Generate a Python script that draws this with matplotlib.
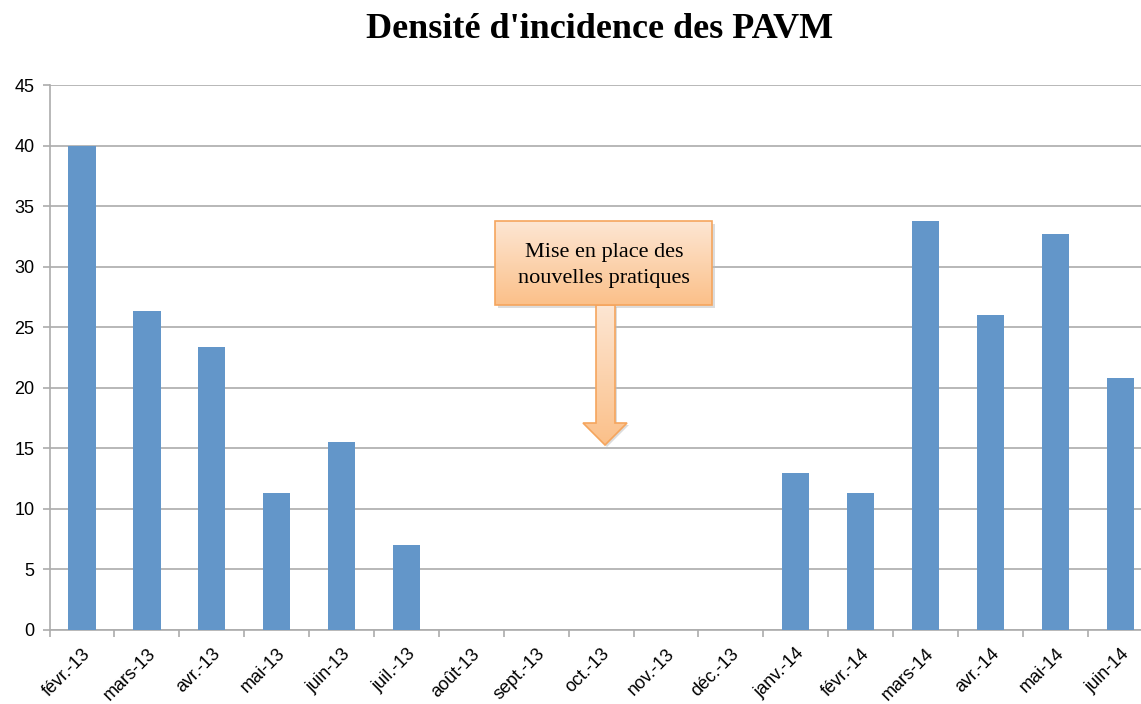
import matplotlib
matplotlib.use("Agg")
import matplotlib.pyplot as plt
import numpy as np
from matplotlib.patches import Rectangle, Polygon
from matplotlib.colors import LinearSegmentedColormap

months = ["févr.-13", "mars-13", "avr.-13", "mai-13", "juin-13", "juil.-13",
          "août-13", "sept.-13", "oct.-13", "nov.-13", "déc.-13", "janv.-14",
          "févr.-14", "mars-14", "avr.-14", "mai-14", "juin-14"]
values = [40.0, 26.3, 23.4, 11.3, 15.5, 7.0, 0, 0, 0, 0, 0, 13.0, 11.3, 33.8, 26.0, 32.7, 20.8]
yticks = [0, 5, 10, 15, 20, 25, 30, 35, 40, 45]

W, H = 1141, 704
fig = plt.figure(figsize=(W / 100, H / 100), dpi=100)
fig.patch.set_facecolor("white")

ax = fig.add_axes([49.6 / W, 74 / H, 1103 / W, 545 / H])
x = np.arange(len(months))
ax.bar(x, values, width=0.42, color="#6396c9", zorder=3)
ax.set_xlim(-0.5, len(months) - 0.5)
ax.set_ylim(0, 45)
ax.set_yticks(yticks)
ax.set_yticklabels([str(t) for t in yticks], fontsize=13, family="Liberation Sans")
ax.yaxis.grid(True, color="#acacac", linewidth=1.2, zorder=0)
ax.set_xticks(x)
ax.set_xticklabels(months, rotation=45, ha="right", rotation_mode="anchor",
                   fontsize=13, family="Liberation Sans")
ax.set_xticks(np.arange(-0.5, len(months), 1), minor=True)
ax.tick_params(axis="x", which="major", length=0, pad=11)
ax.tick_params(axis="x", which="minor", length=5, color="#acacac", width=1.2)
ax.tick_params(axis="y", length=5, color="#acacac", width=1.2, pad=6)
for s in ["top", "right"]:
    ax.spines[s].set_visible(False)
for s in ["left", "bottom"]:
    ax.spines[s].set_color("#acacac")
    ax.spines[s].set_linewidth(1.2)

fig.text(600 / W, 1 - 29 / H, "Densité d'incidence des PAVM", ha="center", va="center",
         fontsize=26, fontweight="bold", family="Liberation Serif")

# Overlay in pixel coords for the callout
ov = fig.add_axes([0, 0, 1, 1])
ov.set_xlim(0, W)
ov.set_ylim(H, 0)
ov.axis("off")
ov.patch.set_alpha(0)

cmap = LinearSegmentedColormap.from_list("g", ["#fde6d3", "#fbc089"])
grad = np.linspace(0, 1, 256).reshape(-1, 1)

# shadows
ov.add_patch(Rectangle((498, 224), 217, 84, facecolor="#bbbbbb", alpha=0.5, edgecolor="none", zorder=1))
arrow_pts = [(596, 305), (615, 305), (615, 423), (627, 423), (605, 445), (583, 423), (596, 423)]
ov.add_patch(Polygon([(px + 2, py + 2) for px, py in arrow_pts], closed=True,
                     facecolor="#bbbbbb", alpha=0.5, edgecolor="none", zorder=1))

# arrow
arr = Polygon(arrow_pts, closed=True, facecolor="none", edgecolor="#f5a55d", linewidth=1.2, zorder=4)
ov.add_patch(arr)
im = ov.imshow(grad, extent=(583, 627, 445, 305), cmap=cmap, aspect="auto", zorder=3)
im.set_clip_path(arr)

# box
box = Rectangle((495, 221), 217, 84, facecolor="none", edgecolor="#f5a55d", linewidth=1.2, zorder=6)
ov.add_patch(box)
im2 = ov.imshow(grad, extent=(495, 712, 305, 221), cmap=cmap, aspect="auto", zorder=5)
im2.set_clip_path(box)
ov.text(604, 266, "Mise en place des\nnouvelles pratiques", ha="center", va="center",
        fontsize=16, family="Liberation Serif", linespacing=1.5, zorder=7)
ov.set_xlim(0, W)
ov.set_ylim(H, 0)

fig.savefig("out.png", dpi=100)
